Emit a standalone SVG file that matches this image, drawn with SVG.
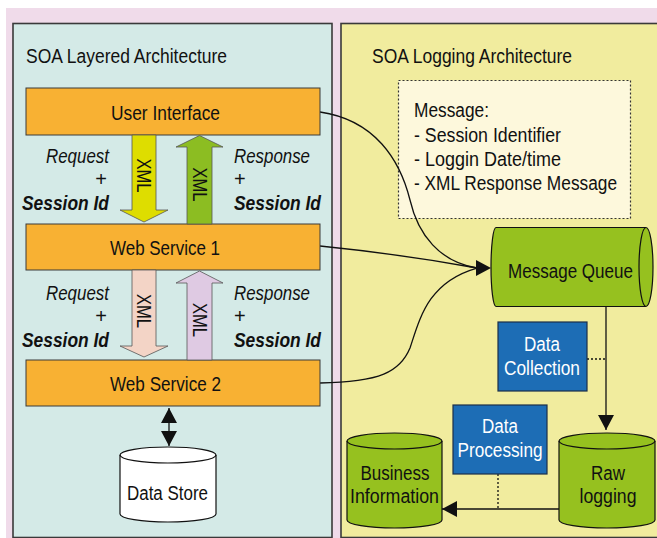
<svg xmlns="http://www.w3.org/2000/svg" width="657" height="538" viewBox="0 0 657 538">
  <style>
    text { font-family: "Liberation Sans", Arial, sans-serif; font-size: 20px; fill: #111; }
    .mid { text-anchor: middle; }
    .it { font-style: italic; }
    .bi { font-style: italic; font-weight: bold; }
    .white { fill: #fff; }
    .panel { stroke: #3a3a3a; stroke-width: 1.6; }
    .layer { fill: #f8b133; stroke: #3a3a3a; stroke-width: 1; }
    .blue { fill: #1d6db5; stroke: #1b2f4a; stroke-width: 1.2; }
    .cyl { fill: #96c11f; stroke: #111; stroke-width: 1.2; }
    .fat { stroke: #555; stroke-width: 0.8; }
    .line { fill: none; stroke: #111; stroke-width: 1.3; }
    .dot { fill: none; stroke: #111; stroke-width: 1.3; stroke-dasharray: 2 2; }
    .head { fill: #111; }
  </style>
  <defs>
    <marker id="arr" markerUnits="userSpaceOnUse" markerWidth="15" markerHeight="16" refX="15" refY="8" orient="auto">
      <path d="M0,0 L15,8 L0,16 Z" fill="#111"/>
    </marker>
    <marker id="arrStart" markerUnits="userSpaceOnUse" markerWidth="15" markerHeight="16" refX="0" refY="8" orient="auto">
      <path d="M15,0 L0,8 L15,16 Z" fill="#111"/>
    </marker>
  </defs>

  <!-- backdrop -->
  <rect x="0" y="0" width="657" height="538" fill="#fff"/>
  <rect x="6" y="8" width="651" height="530" fill="#f0dbea"/>

  <!-- panels -->
  <g id="panel-layered">
    <rect class="panel" x="13" y="23.5" width="319" height="514" fill="#d4eae7"/>
    <text x="26" y="63" textLength="201" lengthAdjust="spacingAndGlyphs">SOA Layered Architecture</text>
  </g>
  <g id="panel-logging">
    <rect class="panel" x="341" y="23.5" width="320" height="514" fill="#f1ec9e"/>
    <text x="372" y="63" textLength="200" lengthAdjust="spacingAndGlyphs">SOA Logging Architecture</text>
  </g>

  <!-- message note -->
  <g id="message-note">
    <rect x="398.5" y="80.5" width="232" height="138" fill="#fdf8dc" stroke="#333" stroke-width="1.2" stroke-dasharray="2 2"/>
    <text x="414" y="117" textLength="75" lengthAdjust="spacingAndGlyphs">Message:</text>
    <text x="414" y="142" textLength="147" lengthAdjust="spacingAndGlyphs">- Session Identifier</text>
    <text x="414" y="166" textLength="147" lengthAdjust="spacingAndGlyphs">- Loggin Date/time</text>
    <text x="414" y="190" textLength="203" lengthAdjust="spacingAndGlyphs">- XML Response Message</text>
  </g>

  <!-- connectors -->
  <g id="connectors">
    <path class="line" d="M320,112 C375,120 400,160 410,200 C418,235 440,262 477,268"/>
    <path class="line" d="M320,246 Q400,254 477,268"/>
    <path class="line" d="M320,383 C380,382 400,372 410,348 C420,318 428,282 477,268"/>
    <path class="head" d="M476,260 L491,268 L476,276 Z"/>
    <line class="line" x1="606" y1="307" x2="606" y2="430" marker-end="url(#arr)"/>
    <line class="line" x1="559" y1="509" x2="442" y2="509" marker-end="url(#arr)"/>
    <line class="dot" x1="587" y1="359" x2="606" y2="359"/>
    <line class="dot" x1="498" y1="474" x2="498" y2="509"/>
    <line class="line" x1="169" y1="408" x2="169" y2="446" marker-start="url(#arrStart)" marker-end="url(#arr)"/>
  </g>

  <!-- layers -->
  <g id="user-interface">
    <rect class="layer" x="26" y="88" width="294" height="47"/>
    <text class="mid" x="165.5" y="120" textLength="109" lengthAdjust="spacingAndGlyphs">User Interface</text>
  </g>
  <g id="web-service-1">
    <rect class="layer" x="26" y="224" width="294" height="46"/>
    <text class="mid" x="165" y="255" textLength="110" lengthAdjust="spacingAndGlyphs">Web Service 1</text>
  </g>
  <g id="web-service-2">
    <rect class="layer" x="26" y="360" width="294" height="46"/>
    <text class="mid" x="165.5" y="391" textLength="111" lengthAdjust="spacingAndGlyphs">Web Service 2</text>
  </g>

  <!-- XML flows between layers -->
  <g id="flow-request-1">
    <path class="fat" fill="#dedd00" d="M132,135 H156 V210 H168 L144,222 L120,210 H132 Z"/>
    <text transform="translate(137,175.5) rotate(90)" class="mid" textLength="34" lengthAdjust="spacingAndGlyphs">XML</text>
  </g>
  <g id="flow-response-1">
    <path class="fat" fill="#8cbd22" d="M187,224 V147 H176 L199.5,135.5 L223,147 H212 V224 Z"/>
    <text transform="translate(192.5,184.5) rotate(90)" class="mid" textLength="34" lengthAdjust="spacingAndGlyphs">XML</text>
  </g>
  <g id="flow-request-2">
    <path class="fat" fill="#f3d4c6" d="M132,270 H156 V346 H168 L144,357 L120,346 H132 Z"/>
    <text transform="translate(137,311) rotate(90)" class="mid" textLength="34" lengthAdjust="spacingAndGlyphs">XML</text>
  </g>
  <g id="flow-response-2">
    <path class="fat" fill="#dfcae3" d="M187,360 V283 H176 L199.5,271 L223,283 H212 V360 Z"/>
    <text transform="translate(192.5,320) rotate(90)" class="mid" textLength="34" lengthAdjust="spacingAndGlyphs">XML</text>
  </g>

  <!-- flow captions -->
  <g id="caption-request-1">
    <text class="it" x="109" y="163" text-anchor="end" textLength="63" lengthAdjust="spacingAndGlyphs">Request</text>
    <text x="107" y="186" text-anchor="end">+</text>
    <text class="bi" x="109" y="210" text-anchor="end" textLength="87" lengthAdjust="spacingAndGlyphs">Session Id</text>
  </g>
  <g id="caption-response-1">
    <text class="it" x="234" y="163" textLength="76" lengthAdjust="spacingAndGlyphs">Response</text>
    <text x="234" y="186">+</text>
    <text class="bi" x="234" y="210" textLength="87" lengthAdjust="spacingAndGlyphs">Session Id</text>
  </g>
  <g id="caption-request-2">
    <text class="it" x="109" y="300" text-anchor="end" textLength="63" lengthAdjust="spacingAndGlyphs">Request</text>
    <text x="107" y="323" text-anchor="end">+</text>
    <text class="bi" x="109" y="347" text-anchor="end" textLength="87" lengthAdjust="spacingAndGlyphs">Session Id</text>
  </g>
  <g id="caption-response-2">
    <text class="it" x="234" y="300" textLength="76" lengthAdjust="spacingAndGlyphs">Response</text>
    <text x="234" y="323">+</text>
    <text class="bi" x="234" y="347" textLength="87" lengthAdjust="spacingAndGlyphs">Session Id</text>
  </g>

  <!-- data store -->
  <g id="data-store">
    <path d="M120,455 A48,8 0 0 1 216,455 V514 A48,8 0 0 1 120,514 Z" fill="#fff" stroke="#111" stroke-width="1.2"/>
    <path d="M120,455 A48,8 0 0 0 216,455" fill="none" stroke="#111" stroke-width="1.2"/>
    <text class="mid" x="167.5" y="500" textLength="81" lengthAdjust="spacingAndGlyphs">Data Store</text>
  </g>

  <!-- message queue -->
  <g id="message-queue">
    <path class="cyl" d="M646,227.5 H496 A5,39.5 0 0 0 496,306.5 H646 A7,39.5 0 0 0 646,227.5 Z"/>
    <path d="M646,227.5 A7,39.5 0 0 0 646,306.5" fill="none" stroke="#111" stroke-width="1.2"/>
    <text class="mid" x="570.5" y="278" textLength="125" lengthAdjust="spacingAndGlyphs">Message Queue</text>
  </g>

  <!-- processing steps -->
  <g id="data-collection">
    <rect class="blue" x="498" y="322" width="89" height="69"/>
    <text class="mid white" x="542" y="351" textLength="36" lengthAdjust="spacingAndGlyphs">Data</text>
    <text class="mid white" x="542" y="375" textLength="76" lengthAdjust="spacingAndGlyphs">Collection</text>
  </g>
  <g id="data-processing">
    <rect class="blue" x="453" y="405" width="94" height="69"/>
    <text class="mid white" x="500" y="433" textLength="36" lengthAdjust="spacingAndGlyphs">Data</text>
    <text class="mid white" x="500" y="457" textLength="85" lengthAdjust="spacingAndGlyphs">Processing</text>
  </g>

  <!-- stores -->
  <g id="business-information">
    <path class="cyl" d="M347,441 A47.5,8 0 0 1 442,441 V520 A47.5,8 0 0 1 347,520 Z"/>
    <path d="M347,441 A47.5,8 0 0 0 442,441" fill="none" stroke="#111" stroke-width="1.2"/>
    <text class="mid" x="395" y="480" textLength="69" lengthAdjust="spacingAndGlyphs">Business</text>
    <text class="mid" x="394.5" y="503" textLength="89" lengthAdjust="spacingAndGlyphs">Information</text>
  </g>
  <g id="raw-logging">
    <path class="cyl" d="M559,441 A48,8 0 0 1 655,441 V520 A48,8 0 0 1 559,520 Z"/>
    <path d="M559,441 A48,8 0 0 0 655,441" fill="none" stroke="#111" stroke-width="1.2"/>
    <text class="mid" x="608" y="480" textLength="34" lengthAdjust="spacingAndGlyphs">Raw</text>
    <text class="mid" x="608" y="503" textLength="57" lengthAdjust="spacingAndGlyphs">logging</text>
  </g>
</svg>
